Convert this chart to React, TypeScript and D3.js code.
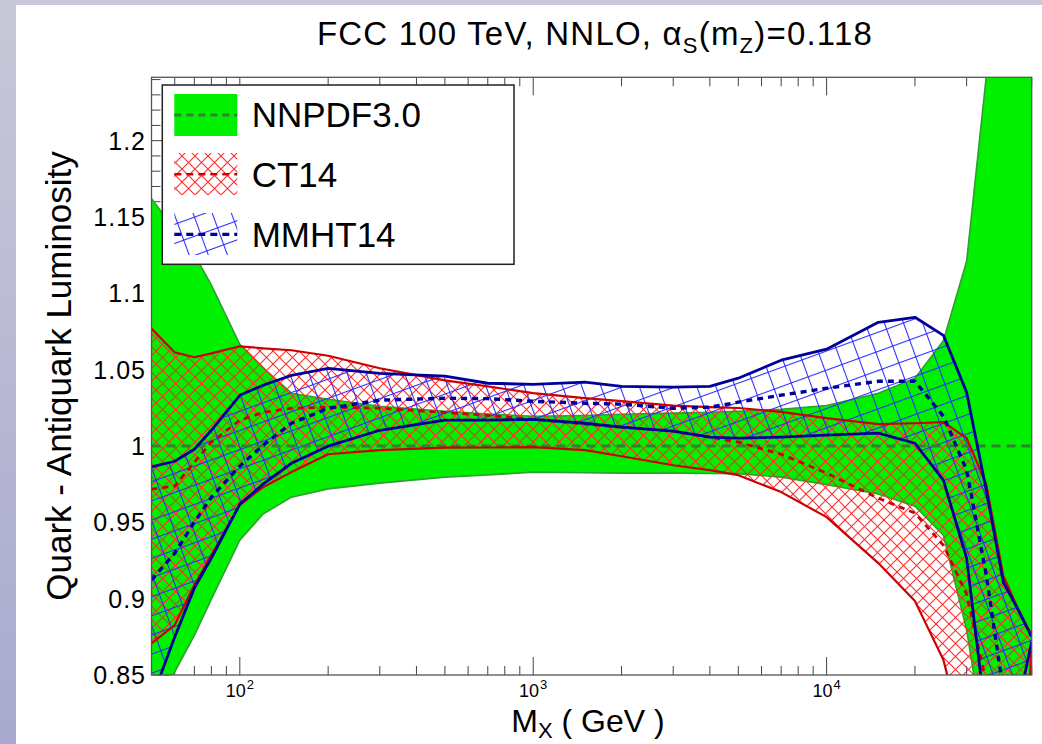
import React from "react";
import * as d3 from "d3";

// ---------------- data ----------------
const masses = [50, 60, 70, 80, 100, 120, 150, 200, 300, 500, 700, 1000, 1500, 2000, 3000, 4000, 5000, 7000, 10000, 15000, 20000, 25000, 30000, 35000, 40000, 45000, 50000];

const nnpdfUpper = [1.162, 1.142, 1.1255, 1.1054, 1.0666, 1.0512, 1.0346, 1.0306, 1.026, 1.0228, 1.021, 1.0195, 1.02, 1.0208, 1.0215, 1.022, 1.0228, 1.024, 1.0265, 1.0346, 1.0444, 1.069, 1.121, 1.242, 1.4, 1.55, 1.7];
const nnpdfLower = [0.82, 0.852, 0.876, 0.8997, 0.9383, 0.9554, 0.9665, 0.9719, 0.9757, 0.9796, 0.981, 0.9829, 0.9825, 0.9822, 0.9822, 0.982, 0.9819, 0.9796, 0.9747, 0.9685, 0.9606, 0.9416, 0.8794, 0.8, 0.65, 0.55, 0.45];
const nnpdfCentral = [1, 1, 1, 1, 1, 1, 1, 1, 1, 1, 1, 1, 1, 1, 1, 1, 1, 1, 1, 1, 1, 1, 1, 1, 1, 1, 1];

const ct14Upper = [1.0769, 1.0613, 1.0581, 1.0607, 1.0653, 1.064, 1.0627, 1.0591, 1.0509, 1.043, 1.039, 1.0346, 1.0313, 1.0294, 1.0264, 1.0255, 1.0249, 1.0224, 1.0182, 1.0143, 1.0149, 1.0156, 1.0051, 0.975, 0.915, 0.893, 0.876];
const ct14Lower = [0.8707, 0.8827, 0.9089, 0.9285, 0.9613, 0.973, 0.9829, 0.9946, 0.9973, 0.9989, 0.999, 0.9992, 0.9973, 0.9933, 0.9874, 0.9842, 0.9809, 0.9698, 0.9534, 0.9233, 0.8984, 0.86, 0.8, 0.76, 0.72, 0.7, 0.87];
const ct14Central = [0.9717, 0.9737, 0.9894, 1.0025, 1.0169, 1.022, 1.0247, 1.0254, 1.0247, 1.022, 1.02, 1.0175, 1.0143, 1.0123, 1.0097, 1.0058, 1.0025, 0.9946, 0.9822, 0.9658, 0.956, 0.935, 0.903, 0.845, 0.8, 0.77, 0.75];

const mmhtUpper = [0.9863, 0.99, 0.9979, 1.0103, 1.0332, 1.0398, 1.0463, 1.0509, 1.0476, 1.0457, 1.0411, 1.0404, 1.0418, 1.0391, 1.0385, 1.0391, 1.0444, 1.0562, 1.0634, 1.081, 1.0843, 1.0725, 1.0352, 0.9711, 0.9109, 0.8925, 0.8749];
const mmhtLower = [0.834, 0.8749, 0.9069, 0.9266, 0.9619, 0.975, 0.9887, 0.9999, 1.0103, 1.0169, 1.0169, 1.0175, 1.0149, 1.0123, 1.0097, 1.0058, 1.0051, 1.0058, 1.0071, 1.0084, 1.0018, 0.9776, 0.9266, 0.82, 0.79, 0.83, 0.872];
const mmhtCentral = [0.9122, 0.9298, 0.9501, 0.9665, 0.9868, 1.0005, 1.0149, 1.0247, 1.03, 1.0313, 1.031, 1.0293, 1.028, 1.0274, 1.0247, 1.0254, 1.0287, 1.0333, 1.0378, 1.0424, 1.0424, 1.0195, 0.9842, 0.9154, 0.84, 0.8, 0.78];

const yTickValues = [0.85, 0.9, 0.95, 1, 1.05, 1.1, 1.15, 1.2];
const yTickLabels = ["0.85", "0.9", "0.95", "1", "1.05", "1.1", "1.15", "1.2"];
const xMajorTicks = [100, 1000, 10000];
const xTickExponents = ["2", "3", "4"];
const legendLabels = ["NNPDF3.0", "CT14", "MMHT14"];

// ---------------- layout ----------------
const W = 1042;
const H = 744;
const L = 151.5;
const R = 1031.7;
const T = 77.3;
const B = 675;
const FONT = "'Liberation Sans', Arial, Helvetica, sans-serif";

const GREEN = "#00f000";
const GREEN_EDGE = "#2f9f2f";
const GREEN_DASH = "#2f832f";
const RED_EDGE = "#cc0000";
const RED_HATCH = "#ff2a2a";
const NAVY = "#000099";
const BLUE_HATCH = "#2a2aff";

export default function App() {
  const x = d3.scaleLog().domain([50, 50000]).range([L, R]);
  const y = d3.scaleLinear().domain([0.85, 1.2415]).range([B, T]);

  const band = (lo: number[], up: number[]) =>
    d3
      .area<number>()
      .x((m) => x(m))
      .y0((_, i) => y(lo[i]))
      .y1((_, i) => y(up[i]))(masses) || "";
  const line = (vals: number[]) =>
    d3
      .line<number>()
      .x((m) => x(m))
      .y((_, i) => y(vals[i]))(masses) || "";

  // minor / major x ticks
  const xTicks: { v: number; major: boolean }[] = [];
  for (let e = 1; e <= 4; e++) {
    for (let k = 1; k <= 9; k++) {
      const v = k * Math.pow(10, e);
      if (v >= 50 && v <= 50000) xTicks.push({ v, major: k === 1 });
    }
  }
  const yTicks: { v: number; major: boolean }[] = [];
  for (let i = 0; i <= 39; i++) {
    const v = 0.85 + i * 0.01;
    if (v <= 1.2415) yTicks.push({ v, major: i % 5 === 0 });
  }

  const legX = 174.3;
  const legW = 63;

  return (
    <div style={{ position: "absolute", left: 0, top: 0, width: W, height: H, background: "#fff" }}>
      <svg width={W} height={H} viewBox={`0 0 ${W} ${H}`} style={{ display: "block" }}>
        <defs>
          <linearGradient id="side" x1="0" y1="0" x2="0" y2="1">
            <stop offset="0" stopColor="#c8c8d8" />
            <stop offset="1" stopColor="#a9a9cf" />
          </linearGradient>
          <clipPath id="plotClip">
            <rect x={L} y={T} width={R - L} height={B - T} />
          </clipPath>
          <pattern id="ctHatch" width={13} height={13} patternUnits="userSpaceOnUse">
            <line x1={-1} y1={-1} x2={14} y2={14} stroke={RED_HATCH} strokeWidth={1.1} />
            <line x1={14} y1={-1} x2={-1} y2={14} stroke={RED_HATCH} strokeWidth={1.1} />
          </pattern>
          <pattern id="mmHatch" width={18} height={18} patternUnits="userSpaceOnUse" patternTransform="rotate(-20)">
            <line x1={-1} y1={0.5} x2={19} y2={0.5} stroke={BLUE_HATCH} strokeWidth={1.1} />
            <line x1={0.5} y1={-1} x2={0.5} y2={19} stroke={BLUE_HATCH} strokeWidth={1.1} />
          </pattern>
        </defs>

        {/* page decoration */}
        <rect x={0} y={0} width={W} height={H} fill="#ffffff" />
        <rect x={0} y={0} width={W} height={5} fill="#c8c8d8" />
        <rect x={0} y={0} width={16} height={H} fill="url(#side)" />

        {/* title */}
        <text x={595} y={45} textAnchor="middle" fontFamily={FONT} fontSize={33} letterSpacing={1.2} fill="#000">
          FCC 100 TeV, NNLO, α
          <tspan fontSize={22} dy={8}>S</tspan>
          <tspan dy={-8}>(m</tspan>
          <tspan fontSize={22} dy={8}>Z</tspan>
          <tspan dy={-8}>)=0.118</tspan>
        </text>

        {/* ticks (drawn beneath the bands) */}
        <g stroke="#444" strokeWidth={1}>
          {xTicks.map((t, i) => {
            const px = x(t.v);
            const len = t.major ? 18 : 9;
            return (
              <g key={"xt" + i}>
                <line x1={px} x2={px} y1={B} y2={B - len} />
                <line x1={px} x2={px} y1={T} y2={T + len} />
              </g>
            );
          })}
          {yTicks.map((t, i) => {
            const py = y(t.v);
            const len = t.major ? 18 : 9;
            return <line key={"yt" + i} x1={L} x2={L + len} y1={py} y2={py} />;
          })}
        </g>

        {/* bands */}
        <g clipPath="url(#plotClip)">
          <path d={band(nnpdfLower, nnpdfUpper)} fill={GREEN} stroke="none" />
          <path d={line(nnpdfUpper)} fill="none" stroke={GREEN_EDGE} strokeWidth={1.6} />
          <path d={line(nnpdfLower)} fill="none" stroke={GREEN_EDGE} strokeWidth={1.6} />

          <path d={band(ct14Lower, ct14Upper)} fill="url(#ctHatch)" stroke="none" />
          <path d={band(mmhtLower, mmhtUpper)} fill="url(#mmHatch)" stroke="none" />

          <path d={line(nnpdfCentral)} fill="none" stroke={GREEN_DASH} strokeWidth={3} strokeDasharray="9 6" />

          <path d={line(ct14Upper)} fill="none" stroke={RED_EDGE} strokeWidth={2.2} strokeLinejoin="round" />
          <path d={line(ct14Lower)} fill="none" stroke={RED_EDGE} strokeWidth={2.2} strokeLinejoin="round" />
          <path d={line(ct14Central)} fill="none" stroke={RED_EDGE} strokeWidth={2.8} strokeDasharray="6 5" />

          <path d={line(mmhtUpper)} fill="none" stroke={NAVY} strokeWidth={2.8} strokeLinejoin="round" />
          <path d={line(mmhtLower)} fill="none" stroke={NAVY} strokeWidth={2.8} strokeLinejoin="round" />
          <path d={line(mmhtCentral)} fill="none" stroke={NAVY} strokeWidth={3.4} strokeDasharray="6 5" />
        </g>

        {/* frame */}
        <rect x={L} y={T} width={R - L} height={B - T} fill="none" stroke="#555" strokeWidth={1.3} />

        {/* y tick labels */}
        {yTickValues.map((v, i) => (
          <text key={"yl" + i} x={146} y={y(v)} dy="0.36em" textAnchor="end" fontFamily={FONT} fontSize={25} letterSpacing={1} fill="#000">
            {yTickLabels[i]}
          </text>
        ))}

        {/* x tick labels */}
        {xMajorTicks.map((v, i) => (
          <text key={"xl" + i} x={x(v)} y={697} textAnchor="middle" fontFamily={FONT} fontSize={18} fill="#000">
            10
            <tspan fontSize={13} dx={1} dy={-8}>{xTickExponents[i]}</tspan>
          </text>
        ))}

        {/* axis titles */}
        <text x={588} y={732} textAnchor="middle" fontFamily={FONT} fontSize={32} fill="#000">
          M<tspan fontSize={22} dy={6}>X</tspan>
          <tspan dy={-6}> ( GeV )</tspan>
        </text>
        <text transform="translate(71,376) rotate(-90)" textAnchor="middle" fontFamily={FONT} fontSize={35} fill="#000">
          Quark - Antiquark Luminosity
        </text>

        {/* legend */}
        <g>
          <rect x={162.3} y={85} width={351.7} height={179.3} fill="#fff" stroke="#222" strokeWidth={1.5} />
          <rect x={legX} y={94} width={legW} height={42} fill={GREEN} />
          <line x1={legX} x2={legX + legW} y1={115} y2={115} stroke={GREEN_DASH} strokeWidth={3} strokeDasharray="7 5" />
          <rect x={legX} y={153} width={legW} height={42} fill="url(#ctHatch)" />
          <line x1={legX} x2={legX + legW} y1={174.3} y2={174.3} stroke={RED_EDGE} strokeWidth={2.6} strokeDasharray="7 5" />
          <rect x={legX} y={213} width={legW} height={42} fill="url(#mmHatch)" />
          <line x1={legX} x2={legX + legW} y1={234.3} y2={234.3} stroke={NAVY} strokeWidth={3.2} strokeDasharray="7 5" />
          {legendLabels.map((s, i) => (
            <text key={"lg" + i} x={251.7} y={[127.3, 186.8, 246.8][i]} fontFamily={FONT} fontSize={35} fill="#000">
              {s}
            </text>
          ))}
        </g>
      </svg>
    </div>
  );
}
